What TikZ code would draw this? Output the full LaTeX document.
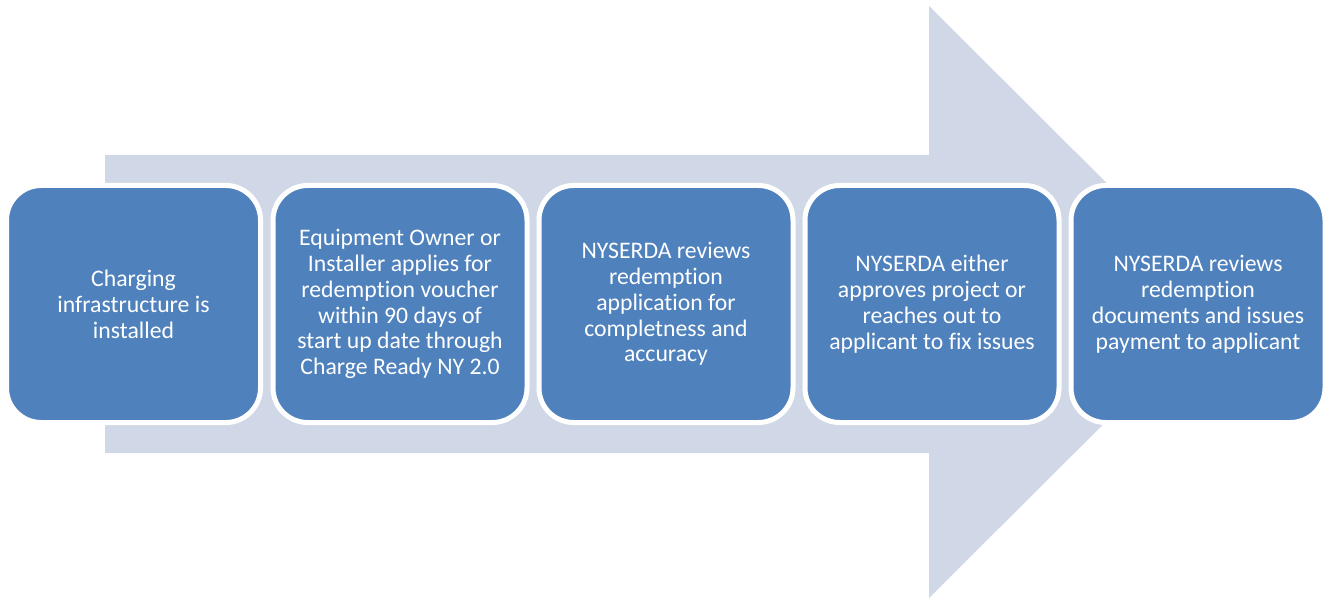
\documentclass[tikz,border=0pt]{standalone}
\usepackage{fontspec}
\setmainfont[Ligatures=NoCommon]{Carlito}
\definecolor{stepblue}{HTML}{4F81BD}
\definecolor{arrowgrey}{HTML}{D0D8E8}
\tikzset{
  stepbox/.style={draw=white,line width=3.75pt,fill=stepblue,rounded corners=26pt,
    minimum width=190.5pt,minimum height=177.75pt,inner sep=0pt,
    text=white,align=center,font=\fontsize{17.8}{19.4}\selectfont}
}
\begin{document}
\begin{tikzpicture}[x=0.75pt,y=-0.75pt]
  \useasboundingbox (0,0) rectangle (1332,599);
  % big arrow behind the steps
  \path[fill=arrowgrey] (105,155)--(929,155)--(929,6)--(1226,302)--(929,598)
    --(929,453)--(105,453)--cycle;
  \path (133.5,304) node[stepbox] (install) {Charging\\infrastructure is\\installed};
  \path (400,304) node[stepbox] (apply) {Equipment Owner or\\Installer applies for\\redemption voucher\\within 90 days of\\start up date through\\Charge Ready NY 2.0};
  \path (666,304) node[stepbox] (review) {NYSERDA reviews\\redemption\\application for\\completness and\\accuracy};
  \path (932,304) node[stepbox] (approve) {NYSERDA either\\approves project or\\reaches out to\\applicant to fix issues};
  \path (1198,304) node[stepbox] (payment) {NYSERDA reviews\\redemption\\documents and issues\\payment to applicant};
\end{tikzpicture}
\end{document}
